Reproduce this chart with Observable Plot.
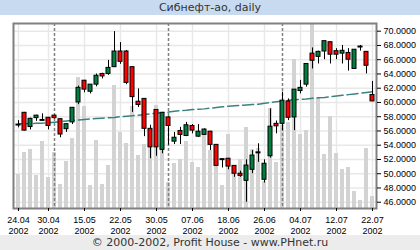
<!DOCTYPE html>
<html><head><meta charset="utf-8">
<script src="https://cdn.jsdelivr.net/npm/d3@7"></script>
<script src="https://cdn.jsdelivr.net/npm/@observablehq/plot@0.6"></script>
<style>
html,body{margin:0;padding:0;background:#fff;}
#wrap{position:relative;width:420px;height:250px;overflow:hidden;font-family:"DejaVu Sans",sans-serif;}
#wrap svg{position:absolute;left:0;top:0;}
#title{position:absolute;z-index:5;left:0;top:0;width:420px;height:15px;background:#c8daef;color:#333;font-size:11px;line-height:15px;text-align:center;}
#foot{position:absolute;z-index:5;left:0;top:235px;width:420px;height:15px;background:#ececec;color:#333;font-size:11px;line-height:15px;text-align:center;}
</style></head><body>
<div id="wrap"></div>
<script>
// ---- data ----
const dates = ["24.04","25.04","26.04","27.04","29.04","30.04","06.05","07.05","08.05","13.05",
"14.05","15.05","16.05","17.05","18.05","20.05","21.05","22.05","23.05","24.05",
"27.05","28.05","29.05","30.05","31.05","03.06","04.06","05.06","06.06","07.06",
"10.06","11.06","13.06","14.06","17.06","18.06","19.06","20.06","21.06","24.06",
"25.06","26.06","27.06","28.06","01.07","02.07","03.07","04.07","05.07","08.07",
"09.07","10.07","11.07","12.07","15.07","16.07","17.07","18.07","19.07","22.07"];
const year = "2002";
const open  = [56.9,58.55,56.55,57.8,57.55,57.85,58.15,57.65,56.25,57.2,
60.0,63.05,61.5,62.5,64.0,64.0,64.95,67.15,67.15,64.95,
60.1,60.5,56.3,58.95,53.35,57.9,54.5,56.0,55.3,56.7,
55.2,55.45,55.9,54.05,52.05,52.1,51.1,50.0,49.0,50.55,
53.0,49.15,52.45,57.0,57.0,60.15,57.9,61.6,62.5,66.85,
66.4,67.15,68.45,67.2,66.85,66.95,64.7,67.85,67.1,61.05];
const high  = [57.45,58.6,57.8,58.2,58.4,57.9,58.2,57.7,57.0,59.25,
62.3,63.1,62.5,64.0,64.1,65.9,69.95,68.4,67.3,65.0,
61.9,60.55,56.8,59.0,58.6,58.0,55.8,56.5,57.2,56.9,
56.9,56.3,55.95,54.1,52.1,52.15,51.15,50.35,51.95,53.25,
54.2,51.95,59.1,57.4,61.45,60.5,61.8,63.1,65.45,67.65,
67.2,68.6,68.5,67.55,68.0,67.55,67.4,68.0,67.15,62.95];
const low   = [56.45,56.0,56.15,57.35,57.45,56.15,57.7,55.05,55.8,56.9,
59.7,61.35,61.2,62.2,63.3,63.8,64.9,65.35,62.5,58.6,
59.3,55.2,52.1,52.45,52.8,54.0,54.1,54.1,55.2,55.6,
55.1,55.4,53.25,51.0,50.8,50.55,49.5,49.5,46.0,50.0,
51.6,48.7,52.2,55.6,56.05,57.45,56.05,61.2,62.15,64.7,
65.4,66.0,65.4,66.0,65.4,64.4,64.7,67.2,64.0,60.1];
const close = [56.9,56.05,57.7,58.15,57.55,56.7,57.8,55.5,56.95,59.25,
62.05,61.8,62.5,63.75,63.65,64.85,67.15,65.7,62.75,60.75,
59.65,56.3,53.7,53.7,58.55,56.7,55.05,55.45,56.8,56.05,
55.9,56.2,54.05,51.1,52.05,51.0,50.0,49.7,51.15,52.55,
53.0,51.4,56.6,56.65,60.25,57.85,61.8,62.05,65.4,65.85,
67.1,68.6,66.7,66.7,67.25,66.0,67.4,67.85,65.15,60.15];
const volume = [340,560,590,330,670,310,560,240,470,700,
1310,1020,230,680,240,430,1230,760,650,1020,
530,640,620,1030,630,260,450,490,670,460,
410,770,580,500,230,740,430,490,810,590,
600,270,1000,460,830,860,1490,740,780,1900,
1110,540,920,550,390,410,170,80,600,120];
const movingAvg = [57.0,57.02,57.05,57.07,57.1,57.15,57.22,57.3,57.4,57.5,
57.55,57.62,57.7,57.76,57.8,57.85,57.9,58.0,58.07,58.15,
58.2,58.3,58.4,58.5,58.55,58.65,58.75,58.85,58.9,59.0,
59.05,59.1,59.2,59.3,59.4,59.47,59.55,59.6,59.65,59.7,
59.76,59.9,60.0,60.1,60.2,60.3,60.38,60.45,60.5,60.6,
60.65,60.7,60.8,60.9,61.0,61.1,61.2,61.3,61.4,61.5];
const tickDates = ["24.04","30.04","15.05","22.05","30.05","07.06","18.06","26.06","04.07","12.07","22.07"];
const priceTicks = [46,48,50,52,54,56,58,60,62,64,66,68,70];
const titleText = "Сибнефт-ао, daily";
const footText = "© 2000-2002, Profit House - www.PHnet.ru";

// ---- derived tables ----
const rows = dates.map((d,i)=>({i, date:d, open:open[i], high:high[i], low:low[i], close:close[i], vol:volume[i], ma:movingAvg[i]}));
const bodies = rows.filter(r=>r.open!==r.close);
const dojis = rows.filter(r=>r.open===r.close);
const tickIdx = tickDates.map(t=>dates.indexOf(t));
const monthStarts = rows.filter((r,k)=>k>0 && r.date.slice(3)!==rows[k-1].date.slice(3)).map(r=>r.i);

const W=420,H=250;
const M = {marginTop:23, marginBottom:42, marginLeft:13, marginRight:44};
const xDomain = [-5/6, 59+2/3];
const yDomain = [45.12, 71.08];
const half = 1/3;

const gridPlot = Plot.plot({width:W,height:H,...M,
  x:{domain:xDomain, axis:null}, y:{domain:yDomain, axis:null},
  style:{background:"#fff"},
  marks:[
    Plot.ruleY(priceTicks,{stroke:"#e8e8e8", strokeWidth:1.5}),
    Plot.ruleX(tickIdx,{stroke:"#e8e8e8", strokeWidth:1.5})
  ]});

const volPlot = Plot.plot({width:W,height:H,...M,
  x:{domain:xDomain, axis:null}, y:{domain:[0,1850], axis:null},
  style:{background:"transparent"},
  marks:[
    Plot.rectY(rows,{x1:d=>d.i-half, x2:d=>d.i+half, y:"vol", fill:"#d3d3d3", clip:true})
  ]});

const mainPlot = Plot.plot({width:W,height:H,...M,
  x:{domain:xDomain}, y:{domain:yDomain},
  style:{background:"transparent", fontFamily:"Liberation Sans, Arial, sans-serif", fontSize:"9px", color:"#000"},
  marks:[
    Plot.ruleX(monthStarts,{stroke:"#808080", strokeWidth:1.5, strokeDasharray:"3,2"}),
    Plot.line(rows,{x:"i", y:"ma", stroke:"#3a8282", strokeWidth:1.5, strokeDasharray:"11,4"}),
    Plot.ruleX(rows,{x:"i", y1:"low", y2:"high", stroke:"#000", strokeWidth:1}),
    Plot.rect(bodies,{x1:d=>d.i-half, x2:d=>d.i+half, y1:"open", y2:"close",
      fill:d=>d.close>d.open?"#008040":"#ff0000", stroke:"#000", strokeWidth:1}),
    Plot.ruleY(dojis,{x1:d=>d.i-0.42, x2:d=>d.i+0.42, y:"open", stroke:"#000", strokeWidth:2}),
    Plot.frame({stroke:"#808080", strokeWidth:2}),
    Plot.axisY({anchor:"right", ticks:priceTicks, tickFormat:d3.format(".4f"), tickSize:4, tickPadding:3, label:null}),
    Plot.axisX({anchor:"bottom", ticks:tickIdx, tickFormat:i=>dates[i]+"\n"+year, tickSize:3, tickPadding:3, lineHeight:1.25, label:null})
  ]});

const wrap = document.getElementById("wrap");
wrap.append(gridPlot, volPlot, mainPlot);
const t = document.createElement("div"); t.id="title"; t.textContent=titleText; wrap.append(t);
const f = document.createElement("div"); f.id="foot"; f.textContent=footText; wrap.append(f);
</script>
</body></html>
